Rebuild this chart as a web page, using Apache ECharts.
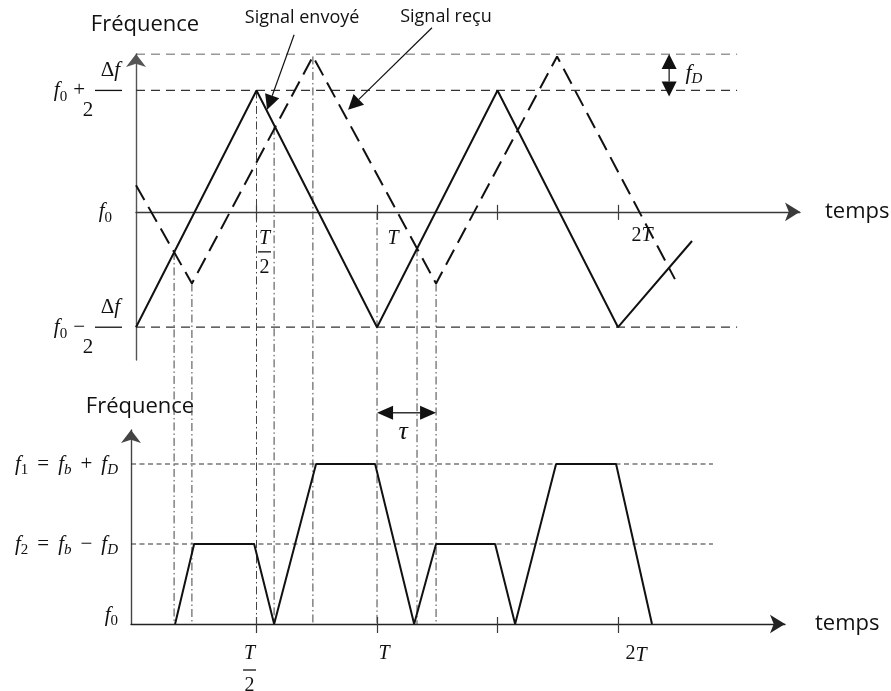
<!DOCTYPE html>
<html>
<head>
<meta charset="utf-8">
<script src="https://cdn.jsdelivr.net/npm/echarts@6/dist/echarts.min.js"></script>
<style>
  html, body { margin: 0; padding: 0; background: #fff; }
  #chart { width: 891px; height: 691px; }
</style>
</head>
<body>
<div id="chart"></div>
<script>
// Time is expressed in units of the modulation period T.
// Upper panel: transmitted and received FMCW ramps (f0 = 0, f0 ± Δf/2 = +1 / -0.95).
const sentT = [0, 0.5, 1.0, 1.5, 2.0, 2.307];
const sentF = [-0.95, 1.0, -0.95, 1.0, -0.95, -0.24];
const recvT = [0, 0.232, 0.734, 1.245, 1.747, 2.236];
const recvF = [0.22, -0.59, 1.28, -0.59, 1.28, -0.554];

// Reference levels of the upper panel: f0 + Δf/2 + fD, f0 + Δf/2, f0 − Δf/2
const topLevels = [1.3, 1.0, -0.95];
const topLevelEnd = 2.494;

// Lower panel: beat frequency (0 = f0, 1 = f2, 2 = f1)
const beatT = [0.162, 0.241, 0.490, 0.573, 0.747, 0.992, 1.154, 1.245, 1.490, 1.573, 1.743, 1.992, 2.141];
const beatF = [0, 1, 1, 0, 2, 2, 0, 1, 1, 0, 2, 2, 0];
const bottomLevels = [2, 1];
const bottomLevelStart = -0.021;
const bottomLevelEnd = 2.394;

// Vertical construction lines: time and upper-panel frequency where each one starts
const guideT = [0.158, 0.232, 0.5, 0.573, 0.734, 1.0, 1.166, 1.245];
const guideF = [-0.33, -0.59, 1.0, 0.70, 1.28, 0.0, -0.30, -0.59];

// Axis ticks and labelled ticks
const tickT = [0.5, 1, 1.5, 2];
const labelT = [0.5, 1, 2];

// Callouts of the upper panel
const noteText = ['Signal envoyé', 'Signal reçu'];
const noteT = [0.689, 1.286];
const noteF = [1.6, 1.605];
const pointerFrom = [[0.656, 1.458], [1.228, 1.516]];
const pointerTo = [[0.544, 0.84], [0.880, 0.84]];
// Doppler shift marker: time, upper and lower end
const dopplerMark = [2.212, 1.3, 0.95];
const dopplerLabel = [2.315, 1.145];
// Delay marker on the lower panel: start, end, level
const delayMark = [1.0, 1.245, 2.64];
const delayLabel = [1.108, 2.4];

const MATH = "'Liberation Serif', 'DejaVu Serif', serif";
const SANS = "'Open Sans', 'Noto Sans', sans-serif";
const INK = '#111';
const AXIS = '#3a3a3a';

// Subscript token: top-aligned with a top padding so it sits below the baseline
function subStyle(size, italic, extra) {
  return Object.assign({
    fontFamily: MATH, fontStyle: italic ? 'italic' : 'normal', fontSize: size, color: INK,
    lineHeight: 12, verticalAlign: 'top', padding: [9, 0, 0, 0]
  }, extra || {});
}

// Rich styles for the fraction labels of the upper frequency axis
const yTopRich = {
  i: { fontFamily: MATH, fontStyle: 'italic', fontSize: 21, color: INK, lineHeight: 20 },
  fi: { fontFamily: MATH, fontStyle: 'italic', fontSize: 21, color: INK, lineHeight: 20, padding: [0, 2, 0, 0] },
  s: subStyle(15, false),
  s0: subStyle(15, false, { padding: [9, 10, 0, 0] }),
  op: { fontFamily: MATH, fontSize: 21, color: INK, lineHeight: 20, padding: [0, 10, 0, 6] },
  d: { fontFamily: MATH, fontSize: 21, color: INK, lineHeight: 20 },
  n: { fontFamily: MATH, fontSize: 21, color: INK, lineHeight: 20, width: 27, align: 'center' },
  bar: { width: 27, height: 1.3, lineHeight: 2, backgroundColor: INK }
};

const yBotRich = {
  i: { fontFamily: MATH, fontStyle: 'italic', fontSize: 21, color: INK, lineHeight: 20 },
  s: subStyle(15, false),
  si: subStyle(15, true),
  op: { fontFamily: MATH, fontSize: 21, color: INK, lineHeight: 20, padding: [0, 9, 0, 9] },
  gap: { lineHeight: 18, fontSize: 1 }
};

function periodRich(size, lift) {
  return {
    i: { fontFamily: MATH, fontStyle: 'italic', fontSize: size, color: INK, lineHeight: size },
    r: { fontFamily: MATH, fontSize: size, color: INK, lineHeight: size },
    ip: { fontFamily: MATH, fontStyle: 'italic', fontSize: size, color: INK, lineHeight: size, padding: [lift, 0, 0, 0] },
    bar: { width: 13, height: 1.3, lineHeight: 2, backgroundColor: INK },
    s14: { width: 14 }, s16: { width: 16 }, s32: { width: 32 }, s36: { width: 36 }, s48: { width: 48 }
  };
}

// Period labels of the two time axes (spacer tokens nudge them beside the ticks)
function topPeriodLabel(v) {
  if (Math.abs(v - 0.5) < 1e-6) return '{s16|}{ip|T}\n{s16|}{bar|}\n{s16|}{r|2}';
  if (Math.abs(v - 1) < 1e-6) return '{s32|}{ip|T}';
  if (Math.abs(v - 2) < 1e-6) return '{s48|}{r|2}{i|T}';
  return '';
}
function bottomPeriodLabel(v) {
  if (Math.abs(v - 0.5) < 1e-6) return '{i|T}{s14|}\n{bar|}{s14|}\n{r|2}{s14|}';
  if (Math.abs(v - 1) < 1e-6) return '{s14|}{i|T}';
  if (Math.abs(v - 2) < 1e-6) return '{s36|}{r|2}{ip|T}';
  return '';
}

function arrowGroup(p1, p2, headStart, headEnd, color, lw, hl, hw) {
  const dx = p2[0] - p1[0], dy = p2[1] - p1[1];
  const L = Math.hypot(dx, dy) || 1;
  const ux = dx / L, uy = dy / L, nx = -uy, ny = ux;
  const kids = [];
  const head = (tip, dir) => {
    const bx = tip[0] - dir * ux * hl, by = tip[1] - dir * uy * hl;
    kids.push({
      type: 'polygon',
      shape: { points: [[tip[0], tip[1]], [bx + nx * hw / 2, by + ny * hw / 2], [bx - nx * hw / 2, by - ny * hw / 2]] },
      style: { fill: color }
    });
    return [bx, by];
  };
  const a = headStart ? head(p1, -1) : p1;
  const b = headEnd ? head(p2, 1) : p2;
  kids.unshift({ type: 'line', shape: { x1: a[0], y1: a[1], x2: b[0], y2: b[1] }, style: { stroke: color, lineWidth: lw } });
  return { type: 'group', children: kids };
}

const zip = (xs, ys) => xs.map((x, i) => [x, ys[i]]);

const option = {
  animation: false,
  backgroundColor: '#fff',
  grid: [
    { left: 136, right: 91, top: 54, bottom: 331, outerBoundsMode: 'none', containLabel: false },
    { left: 131, right: 106, top: 430, bottom: 67, outerBoundsMode: 'none', containLabel: false }
  ],
  xAxis: [
    {
      id: 'tTop', gridIndex: 0, type: 'value', min: 0, max: 2.755, position: 'bottom', offset: 0,
      axisLine: { onZero: false, symbol: ['none', 'arrow'], symbolSize: [14, 15], lineStyle: { color: AXIS, width: 1.3 } },
      axisTick: { customValues: tickT, length: 8, lineStyle: { color: AXIS, width: 1.2 } },
      axisLabel: { customValues: labelT, margin: 14, formatter: topPeriodLabel, rich: periodRich(20, 6) },
      splitLine: { show: false },
      name: 'temps', nameLocation: 'end', nameGap: 25,
      nameTextStyle: { fontFamily: SANS, fontSize: 22, color: INK, padding: [0, 0, 12, 0] }
    },
    {
      id: 'tTopIn', gridIndex: 0, type: 'value', min: 0, max: 2.755, position: 'bottom', offset: 0,
      axisLine: { onZero: false, show: false },
      axisTick: { customValues: tickT, inside: true, length: 7, lineStyle: { color: AXIS, width: 1.2 } },
      axisLabel: { show: false }, splitLine: { show: false }
    },
    {
      gridIndex: 1, type: 'value', min: -0.021, max: 2.693, position: 'bottom',
      axisLine: { onZero: false, symbol: ['none', 'arrow'], symbolSize: [14, 15], lineStyle: { color: '#222', width: 1.3 } },
      axisTick: { customValues: tickT, length: 9, lineStyle: { color: AXIS, width: 1.2 } },
      axisLabel: { customValues: labelT, margin: 20, formatter: bottomPeriodLabel, rich: periodRich(20, 3) },
      splitLine: { show: false },
      name: 'temps', nameLocation: 'end', nameGap: 30,
      nameTextStyle: { fontFamily: SANS, fontSize: 22, color: INK, padding: [0, 0, 8, 0] }
    },
    {
      gridIndex: 1, type: 'value', min: -0.021, max: 2.693, position: 'bottom',
      axisLine: { onZero: false, show: false },
      axisTick: { customValues: tickT, inside: true, length: 7, lineStyle: { color: AXIS, width: 1.2 } },
      axisLabel: { show: false }, splitLine: { show: false }
    }
  ],
  yAxis: [
    {
      gridIndex: 0, type: 'value', min: -1.22, max: 1.3,
      axisLine: { show: true, onZero: false, symbol: ['none', 'arrow'], symbolSize: [15, 13], lineStyle: { color: '#555', width: 1.4 } },
      axisTick: { show: false },
      axisLabel: {
        customValues: [1, 0, -0.95], margin: 14, rich: yTopRich,
        formatter: v => {
          if (v === 0) return '{i|f}{s0|0}';
          const sign = v > 0 ? '+' : '−';
          return '{d|Δ}{fi|f}\n{i|f}{s|0}{op|' + sign + '}{bar|}\n{n|2}';
        }
      },
      splitLine: { show: false },
      name: 'Fréquence', nameLocation: 'end', nameGap: 18,
      nameTextStyle: { fontFamily: SANS, fontSize: 22, color: INK, padding: [0, 0, 0, 18] }
    },
    {
      gridIndex: 1, type: 'value', min: 0, max: 2.425,
      axisLine: { show: true, onZero: false, symbol: ['none', 'arrow'], symbolSize: [15, 13], lineStyle: { color: '#444', width: 1.4 } },
      axisTick: { show: false },
      axisLabel: {
        customValues: [2, 1, 0], margin: 13, rich: yBotRich,
        formatter: v => {
          if (v === 0) return '{i|f}{s|0}\n{gap| }';
          const k = v === 2 ? '1' : '2';
          const sign = v === 2 ? '+' : '−';
          return '{i|f}{s|' + k + '}{op|=}{i|f}{si|b}{op|' + sign + '}{i|f}{si|D}';
        }
      },
      splitLine: { show: false },
      name: 'Fréquence', nameLocation: 'end', nameGap: 12,
      nameTextStyle: { fontFamily: SANS, fontSize: 22, color: INK, padding: [0, 0, 0, 18] }
    }
  ],
  series: []
};

const lineBase = { type: 'line', showSymbol: false, symbol: 'none', silent: true, animation: false };

// Dashed reference levels, upper panel
topLevels.forEach((lv, i) => {
  option.series.push(Object.assign({}, lineBase, {
    name: 'level' + i, xAxisIndex: 0, yAxisIndex: 0, z: 1,
    data: [[0, lv], [topLevelEnd, lv]],
    lineStyle: { color: '#333', width: 1.2, type: [9, 6] }
  }));
});

// Construction lines joining both panels (bottom end set after layout)
option.series.push({
  id: 'guides', type: 'custom', xAxisIndex: 0, yAxisIndex: 0, z: 2, silent: true,
  data: guideT.map((t, i) => [t, guideF[i], guideF[i]]),
  encode: { x: 0, y: [1, 2] },
  renderItem: (params, api) => {
    const a = api.coord([api.value(0), api.value(1)]);
    const b = api.coord([api.value(0), api.value(2)]);
    return {
      type: 'line', shape: { x1: a[0], y1: a[1], x2: b[0], y2: b[1] },
      style: { stroke: '#444', lineWidth: 1, lineDash: [8, 3, 1.5, 3] }
    };
  }
});

option.series.push(Object.assign({}, lineBase, {
  name: 'Signal envoyé', xAxisIndex: 0, yAxisIndex: 0, z: 4,
  data: zip(sentT, sentF),
  lineStyle: { color: INK, width: 2 }
}));
option.series.push(Object.assign({}, lineBase, {
  name: 'Signal reçu', xAxisIndex: 0, yAxisIndex: 0, z: 4,
  data: zip(recvT, recvF),
  lineStyle: { color: INK, width: 2, type: [17, 8] }
}));

// Callout arrows and texts, upper panel
option.series.push({
  type: 'custom', xAxisIndex: 0, yAxisIndex: 0, z: 6, silent: true,
  data: pointerFrom.map((p, i) => [p[0], p[1], pointerTo[i][0], pointerTo[i][1], 0, 1])
    .concat([[dopplerMark[0], dopplerMark[1], dopplerMark[0], dopplerMark[2], 1, 1]]),
  encode: { x: [0, 2], y: [1, 3] },
  renderItem: (params, api) => {
    const p1 = api.coord([api.value(0), api.value(1)]);
    const p2 = api.coord([api.value(2), api.value(3)]);
    return arrowGroup(p1, p2, api.value(4), api.value(5), INK, 1.2, 15, 15);
  }
});
option.series.push({
  type: 'custom', xAxisIndex: 0, yAxisIndex: 0, z: 6, silent: true,
  data: zip(noteT, noteF).concat([dopplerLabel]),
  encode: { x: 0, y: 1 },
  renderItem: (params, api) => {
    const p = api.coord([api.value(0), api.value(1)]);
    if (params.dataIndex < noteText.length) {
      return {
        type: 'text', x: p[0], y: p[1],
        style: { text: noteText[params.dataIndex], fill: INK, fontFamily: SANS, fontSize: 18, align: 'center', verticalAlign: 'middle' }
      };
    }
    return {
      type: 'text', x: p[0], y: p[1],
      style: {
        text: '{i|f}{s|D}', align: 'center', verticalAlign: 'middle',
        rich: {
          i: { fontFamily: MATH, fontStyle: 'italic', fontSize: 22, fill: INK, lineHeight: 20 },
          s: { fontFamily: MATH, fontStyle: 'italic', fontSize: 15, fill: INK, lineHeight: 12, verticalAlign: 'top', padding: [9, 0, 0, 0] }
        }
      }
    };
  }
});

// Lower panel: dashed levels f1, f2 and beat frequency
bottomLevels.forEach((lv, i) => {
  option.series.push(Object.assign({}, lineBase, {
    name: 'beatLevel' + i, xAxisIndex: 2, yAxisIndex: 1, z: 1,
    data: [[bottomLevelStart, lv], [bottomLevelEnd, lv]],
    lineStyle: { color: '#333', width: 1.1, type: [5, 3.5] }
  }));
});
option.series.push(Object.assign({}, lineBase, {
  name: 'Battement', xAxisIndex: 2, yAxisIndex: 1, z: 4,
  data: zip(beatT, beatF),
  lineStyle: { color: INK, width: 2 }
}));
option.series.push({
  type: 'custom', xAxisIndex: 2, yAxisIndex: 1, z: 6, silent: true,
  data: [[delayMark[0], delayMark[2], delayMark[1], delayMark[2], delayLabel[0], delayLabel[1]]],
  encode: { x: [0, 2], y: [1, 3] },
  renderItem: (params, api) => {
    const p1 = api.coord([api.value(0), api.value(1)]);
    const p2 = api.coord([api.value(2), api.value(3)]);
    const pl = api.coord([api.value(4), api.value(5)]);
    const g = arrowGroup(p1, p2, 1, 1, INK, 1.3, 16, 14);
    g.children.push({
      type: 'text', x: pl[0], y: pl[1],
      style: { text: 'τ', fill: INK, fontFamily: MATH, fontStyle: 'italic', fontSize: 26, align: 'center', verticalAlign: 'middle' }
    });
    return g;
  }
});

const chart = echarts.init(document.getElementById('chart'));
chart.setOption(option);

// Lift the upper time axis onto the f0 level, and extend the construction
// lines down to the time axis of the lower panel.
const topZeroPx = chart.convertToPixel({ gridIndex: 0 }, [0, 0])[1];
const topFloorPx = chart.convertToPixel({ gridIndex: 0 }, [0, -1.22])[1];
const axisPx = chart.convertToPixel({ gridIndex: 1 }, [0, 0])[1];
const axisInTop = chart.convertFromPixel({ gridIndex: 0 }, [0, axisPx])[1];
chart.setOption({
  xAxis: [
    { id: 'tTop', offset: topZeroPx - topFloorPx },
    { id: 'tTopIn', offset: topZeroPx - topFloorPx }
  ],
  series: [{ id: 'guides', data: guideT.map((t, i) => [t, guideF[i], axisInTop]) }]
});
</script>
</body>
</html>
